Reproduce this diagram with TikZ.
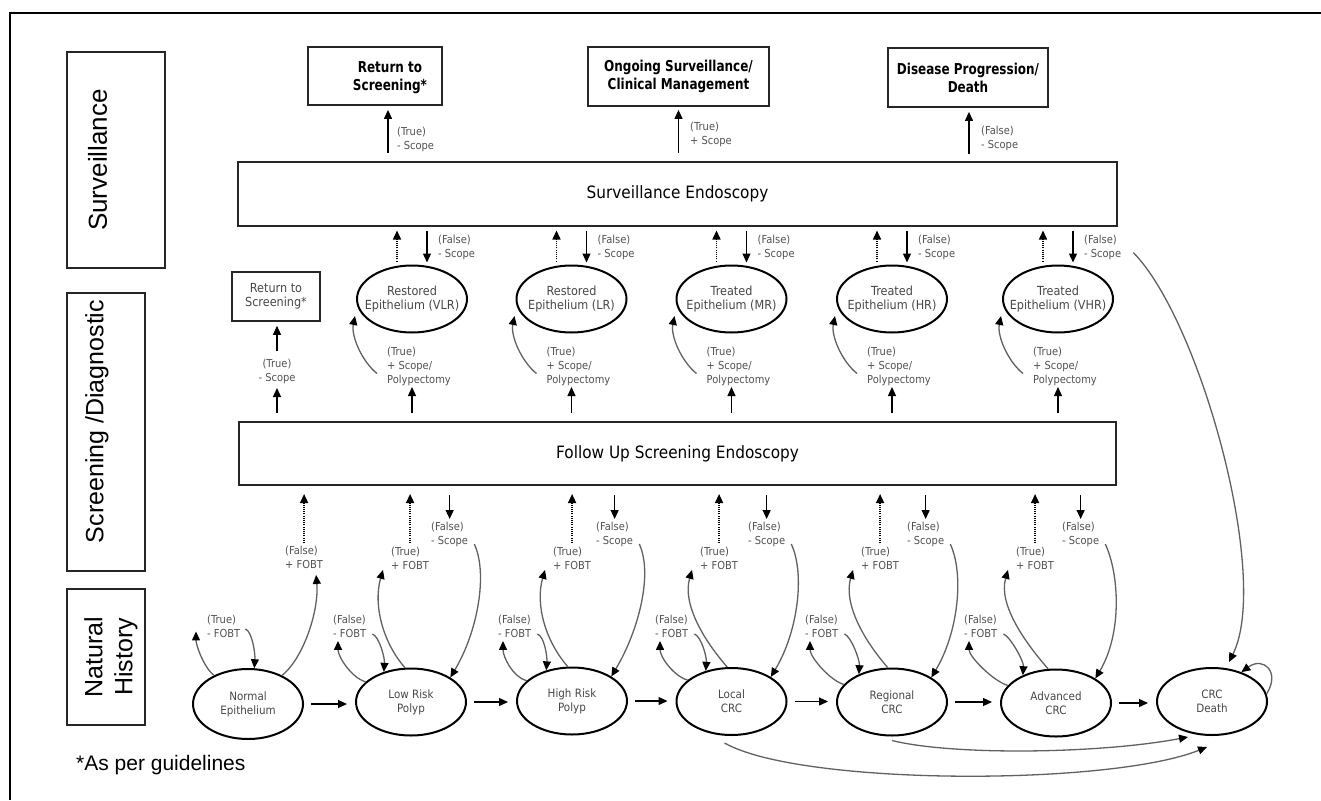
\documentclass[tikz,border=0pt]{standalone}
\usepackage{fontspec}
\usetikzlibrary{shapes.geometric,arrows.meta,calc}
\newfontfamily\tah{DejaVu Sans}[FakeStretch=0.9]
\newfontfamily\tahc{DejaVu Sans}[FakeStretch=0.8]
\newfontfamily\ari{Liberation Sans}
\newcommand\fLab{\tah\fontsize{11}{14}\selectfont}
\newcommand\fEllM{\tah\fontsize{12.5}{14}\selectfont}
\newcommand\fEllB{\tah\fontsize{11.5}{14}\selectfont}
\newcommand\fTop{\tahc\bfseries\fontsize{15}{18}\selectfont}
\newcommand\fBig{\tah\fontsize{17}{20}\selectfont}
\newcommand\fSide{\ari\fontsize{25}{30}\selectfont}
\tikzset{
  box/.style={draw=black!85, line width=1.8pt, inner sep=0pt},
  ell/.style={draw=black, line width=2pt, ellipse, inner sep=0pt, minimum width=110pt, minimum height=67pt},
  etm/.style={align=center, text=black!72, font=\fEllM, inner sep=0pt},
  etb/.style={align=center, text=black!72, font=\fEllB, inner sep=0pt},
  lab/.style={inner sep=0pt, align=left, text=black!68, font=\fLab},
  sidetxt/.style={inner sep=0pt, font=\fSide, text=black},
  arr/.style={line width=1.2pt, -{Triangle[length=9pt,width=8pt]}},
  carr/.style={line width=1.3pt, draw=black!62, -{Triangle[length=9pt,width=8pt,color=black]}},
  darr/.style={line width=1.5pt, dash pattern=on 1pt off 1.2pt, -{Triangle[length=9pt,width=8pt]}}
}
% middle-row unit: name, cx, line1, line2, id
\newcommand{\MIDunit}[5]{%
  \node[ell, label={[etm]center:{#3\\#4}}] (#1) at (#2,299) {};
  \draw[darr] ($(#1.north)+(-15,-3)$) -- ++(0,-31);
  \draw[arr] ($(#1.north)+(15,-34)$) -- ++(0,32);
  \node[lab, anchor=north west] (ms#5) at ({#2+26},235) {(False)\\- Scope};
  \draw[carr] ($(#1.south)+(-35,40)$) .. controls +(-15,-12) and +(-4,20) .. ($(#1.west)+(-1,17)$);
  \node[lab, anchor=north west] (mt#5) at ({#2-25},347) {(True)\\+ Scope/\\Polypectomy};
  \draw[arr] ($(fu.north -| #1.south)+(0,-8)$) -- ++(0,-26);
}
% natural-history unit: name, fobt-left, loopAng, downAng, tf-left, upAng, scope-left, id
\newcommand{\NHunit}[8]{%
  \node[lab, anchor=north west] (fl#8) at ({#2-1},615) {(False)\\- FOBT};
  \draw[carr] (#1.#3) .. controls +(-14,-4) and +(0,16) .. ($(fl#8.south west)+(5,3)$);
  \draw[carr] ($(fl#8.south east)+(6,-4)$) .. controls +(7,3) and +(1,-14) .. (#1.#4);
  \node[lab, anchor=north west] (tf#8) at ({#5-1},547) {(True)\\+ FOBT};
  \draw[carr] (#1.#6) .. controls +(-22,-25) and +(-10,35) .. ($(tf#8.south west)+(-8,0)$);
  \draw[darr] ($(tf#8.north)+(0,-4)$) -- ($(fu.south -| tf#8.north)+(0,8)$);
  \node[lab, anchor=north west] (sl#8) at ({#7-1},522) {(False)\\- Scope};
  \draw[arr] ($(fu.south -| sl#8.north)+(0,9)$) -- ($(sl#8.north)+(0,-3)$);
  \draw[carr] ($(sl#8.south east)+(6,-3)$) .. controls +(14,30) and +(27,-45) .. (#1.32);
}
\begin{document}
\begin{tikzpicture}[x=1pt,y=-1pt]
\useasboundingbox (0,0) rectangle (1321,800);
\fill[white] (0,0) rectangle (1321,800);
\draw[line width=2.5pt] (10,800) -- (10,13) -- (1321,13);

% side labels
\node[box, minimum width=98pt, minimum height=216pt] (svbox) at (116,160) {};
\node[sidetxt, rotate=90, font=\ari\fontsize{26}{30}\selectfont] (svtxt) at (97.5,160) {Surveillance};
\node[box, minimum width=78pt, minimum height=278pt] (sdbox) at (106,432) {};
\node[sidetxt, rotate=90] (sdtxt) at (97,421.5) {Screening /Diagnostic};
\node[box, minimum width=78pt, minimum height=136pt] (nhbox) at (106,657) {};
\node[sidetxt, rotate=90, align=center] (nhtxt) at (111,657) {Natural\\History};

% top boxes
\node[box, minimum width=134pt, minimum height=58pt] (rts) at (375,76) {};
\node[inner sep=0pt, font=\fTop, align=center] (rtstxt) at (390,78) {Return to\\Screening*};
\node[box, minimum width=181pt, minimum height=59pt, font=\fTop, align=center] (ong) at (678.5,76.5) {Ongoing Surveillance/\\Clinical Management};
\node[box, minimum width=160pt, minimum height=59pt, font=\fTop, align=center] (dis) at (968,77.5) {Disease Progression/\\Death};

% main boxes
\node[box, line width=2pt, minimum width=879pt, minimum height=64pt, font=\fBig] (surv) at (677.5,194) {Surveillance Endoscopy};
\node[box, line width=2pt, minimum width=877pt, minimum height=63pt, font=\fBig] (fu) at (677.5,453.5) {Follow Up Screening Endoscopy};

% arrows to top boxes
\draw[arr] ($(surv.north -| rts.south)+(13,-8)$) -- ($(rts.south)+(13,4)$);
\node[lab, anchor=north west] (t1) at (397,127) {(True)\\- Scope};
\draw[arr] ($(surv.north -| ong.south)+(0,-8)$) -- ($(ong.south)+(0,3)$);
\node[lab, anchor=north west] (t2) at (690,122) {(True)\\+ Scope};
\draw[arr] ($(surv.north -| dis.south)+(1,-7)$) -- ($(dis.south)+(1,4)$);
\node[lab, anchor=north west] (t3) at (981,126) {(False)\\- Scope};

% middle row
\node[box, line width=1.6pt, minimum width=88pt, minimum height=49pt, font=\fEllM, text=black!72, align=center] (rts2) at (276,296.5) {Return to\\Screening*};
\draw[arr] ($(fu.north -| rts2.south)+(1,-8)$) -- ++(0,-25);
\node[lab, align=center, anchor=north] (rl) at (277,359) {(True)\\- Scope};
\draw[arr] ($(rts2.south)+(1,29)$) -- ($(rts2.south)+(1,4)$);

\MIDunit{vlr}{412}{Restored}{Epithelium (VLR)}{1}
\MIDunit{lr}{571.5}{Restored}{Epithelium (LR)}{2}
\MIDunit{mr}{731.5}{Treated}{Epithelium (MR)}{3}
\MIDunit{hr}{892}{Treated}{Epithelium (HR)}{4}
\MIDunit{vhr}{1058}{Treated}{Epithelium (VHR)}{5}

% natural history ellipses
\node[ell, minimum height=70pt, label={[etb]center:{Normal\\Epithelium}}] (ne) at (248,704) {};
\node[ell, label={[etb]center:{Low Risk\\Polyp}}] (lrp) at (411,702) {};
\node[ell, label={[etb]center:{High Risk\\Polyp}}] (hrp) at (572,701) {};
\node[ell, label={[etb]center:{Local\\CRC}}] (lcrc) at (731.5,701.5) {};
\node[ell, label={[etb]center:{Regional\\CRC}}] (rcrc) at (892,702) {};
\node[ell, label={[etb]center:{Advanced\\CRC}}] (acrc) at (1056,703) {};
\node[ell, label={[etb]center:{CRC\\Death}}] (death) at (1212,701.5) {};

\draw[arr] ($(ne.east)+(7,0)$) -- ($(ne.east -| lrp.west)+(-8,0)$);
\draw[arr] ($(lrp.east)+(7,0)$) -- ($(lrp.east -| hrp.west)+(-8,0)$);
\draw[arr] ($(hrp.east)+(7,0)$) -- ($(hrp.east -| lcrc.west)+(-8,0)$);
\draw[arr] ($(lcrc.east)+(7,0)$) -- ($(lcrc.east -| rcrc.west)+(-8,0)$);
\draw[arr] ($(rcrc.east)+(7,0)$) -- ($(rcrc.east -| acrc.west)+(-8,0)$);
\draw[arr] ($(acrc.east)+(7,0)$) -- ($(acrc.east -| death.west)+(-8,0)$);

% normal epithelium unit
\node[lab, anchor=north west] (nf) at (207,615) {(True)\\- FOBT};
\draw[carr] (ne.140) .. controls +(-10,-8) and +(0,14) .. ($(nf.west)+(-11,5)$);
\draw[carr] ($(nf.south east)+(5,-9)$) .. controls +(7,3) and +(1,-14) .. (ne.80);
\node[lab, anchor=north west] (nt) at (285,546) {(False)\\+ FOBT};
\draw[carr] (ne.40) .. controls +(22,-18) and +(3,35) .. ($(nt.south)+(12,6)$);
\draw[darr] ($(nt.north)+(0,-3)$) -- ($(fu.south -| nt.north)+(0,8)$);

\NHunit{lrp}{334}{156}{132}{392}{100}{432}{1}
\NHunit{hrp}{499}{156}{130}{554}{97}{597}{2}
\NHunit{lcrc}{656}{154}{130}{701}{97}{749}{3}
\NHunit{rcrc}{806}{160}{140}{862}{97}{908}{4}
\NHunit{acrc}{965}{160}{140}{1017}{103}{1063}{5}

% CRC death connections
\draw[carr] ($(ms5.east)+(12,5)$) .. controls +(67,68) and +(42,-84) .. ($(death.north)+(17,-5)$);
\draw[carr] (death.8) .. controls +(14,-22) and +(22,-16) .. (death.45);
\draw[carr] ($(rcrc.south)+(0,4)$) .. controls +(60,15) and +(-90,17) .. ($(death.south)+(-24,1)$);
\draw[carr] ($(lcrc.south)+(-7,7)$) .. controls +(76,43) and +(-97,39) .. ($(death.south)+(-5,11)$);

\node[anchor=base west, inner sep=0pt, font=\ari\fontsize{21}{24}\selectfont] (note) at (76,770) {*As per guidelines};
\end{tikzpicture}
\end{document}
